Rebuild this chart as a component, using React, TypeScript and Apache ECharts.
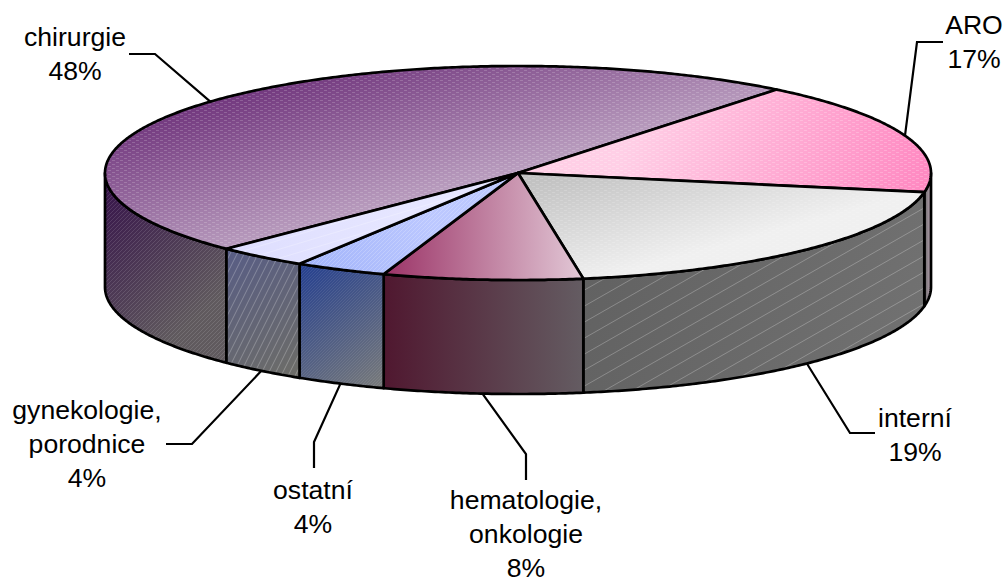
import React, { useEffect, useRef } from "react";
import * as echarts from "echarts";

// ---------- data ----------
const categories = ["chirurgie", "ARO", "interní", "hematologie,\nonkologie", "ostatní", "gynekologie,\nporodnice"];
const values = [48.3, 17.1, 19.6, 7.8, 3.6, 3.6];
const percentLabels = ["48%", "17%", "19%", "8%", "4%", "4%"];

// ---------- geometry ----------
const CX = 518, CY = 173, RX = 413, RY = 107, DEPTH = 114;
const START_DEG = 134.9;
const FONT = "'Liberation Sans', Arial, sans-serif";
const FONT_SIZE = 26.6;
const LINE_H = 34;

type Grad = [number, number, number, number, string, string];
const topGrad: Grad[] = [
  [190, 90, 236, 253, "#6A2C77", "#BBA0C0"],
  [640, 100, 920, 190, "#FFCFE6", "#FF8AC2"],
  [560, 175, 589, 282, "#C2C2C2", "#F0F0F0"],
  [386, 0, 583, 0, "#9C3568", "#E2C8D6"],
  [300, 264, 420, 200, "#A2B4FA", "#BCC8FF"],
  [227, 248, 400, 200, "#DEDEFF", "#E6E6FF"],
];
const wallGrad: Grad[] = [
  [105, 180, 215, 300, "#36124A", "#605A5E"],
  [925, 0, 932, 0, "#707070", "#C8ACC0"],
  [585, 280, 925, 390, "#626262", "#727272"],
  [385, 0, 583, 0, "#501830", "#645C62"],
  [300, 270, 385, 385, "#27418F", "#787A7A"],
  [228, 250, 300, 370, "#585D85", "#6C6C68"],
];
// tile kinds: speck = brick specks, fine = fine diagonal dots, lines = diagonal lines
type Tile = [string, number, number, number] | null;
const topTile: Tile[] = [
  ["speck", 8, 4, 0.18],
  ["speck", 8, 4, 0.22],
  ["speck", 8, 4, 0.16],
  null,
  ["fine", 4, 4, 0.2],
  ["lines", 30, 9, 0.25],
];
const wallTile: Tile[] = [
  ["fine", 4, 4, 0.12],
  null,
  ["lines", 28, 16, 0.25],
  null,
  ["fine", 3, 3, 0.08],
  ["lines", 7, 14, 0.25],
];
const labelPos: number[][] = [[75, 54], [974, 42], [915, 435], [526, 533.5], [313, 507], [87, 444]];
const leaderBend: number[][][] = [
  [[155, 54], [129, 54]],
  [[917, 42], [943, 42]],
  [[850, 433], [875, 433]],
  [[526, 454], [526, 480]],
  [[314, 442], [314, 468]],
  [[192, 444], [166, 444]],
];

function makeTile(t: Tile): any {
  if (!t) return null;
  const [kind, w, h, alpha] = t;
  const c = document.createElement("canvas");
  c.width = w;
  c.height = h;
  const g = c.getContext("2d")!;
  g.fillStyle = g.strokeStyle = `rgba(255,255,255,${alpha})`;
  if (kind === "speck") {
    g.fillRect(0, 0, 3, 1);
    g.fillRect(4, 2, 3, 1);
  } else if (kind === "fine") {
    for (let i = 0; i < w; i++) g.fillRect(i, h - 1 - i, 1, 1);
  } else {
    g.lineWidth = 1;
    for (const [dx, dy] of [[0, 0], [-w, 0], [w, 0], [0, h], [0, -h]]) {
      g.beginPath();
      g.moveTo(dx, h + dy);
      g.lineTo(w + dx, dy);
      g.stroke();
    }
  }
  return { image: c, repeat: "repeat" };
}

const rim = (deg: number, dy = 0): number[] => {
  const r = (deg * Math.PI) / 180;
  return [CX + RX * Math.cos(r), CY + RY * Math.sin(r) + dy];
};
const arc = (a: number, b: number, dy = 0): number[][] => {
  const pts: number[][] = [];
  const n = Math.max(2, Math.ceil(Math.abs(b - a) / 0.5));
  for (let i = 0; i <= n; i++) pts.push(rim(a + ((b - a) * i) / n, dy));
  return pts;
};
const total = values.reduce((s, v) => s + v, 0);
const span = (idx: number): [number, number] => {
  let a = START_DEG;
  for (let i = 0; i < idx; i++) a += (values[i] / total) * 360;
  return [a, a + (values[idx] / total) * 360];
};
const gradOf = (g: Grad) =>
  new echarts.graphic.LinearGradient(g[0], g[1], g[2], g[3], [
    { offset: 0, color: g[4] },
    { offset: 1, color: g[5] },
  ], true);

function shape(points: number[][], grad: any, pat: any) {
  const children: any[] = [
    { type: "polygon", shape: { points }, style: { fill: grad, stroke: "none" } },
  ];
  if (pat) children.push({ type: "polygon", shape: { points }, style: { fill: pat, stroke: "none" } });
  children.push({
    type: "polygon",
    shape: { points },
    style: { fill: "none", stroke: "#000", lineWidth: 2.7, lineJoin: "round" },
  });
  return children;
}

export default function App() {
  const ref = useRef<HTMLDivElement>(null);
  useEffect(() => {
    const chart = echarts.init(ref.current!, undefined, { renderer: "svg" });
    const topPat = topTile.map(makeTile);
    const wallPat = wallTile.map(makeTile);
    const seriesData = values.map((v, i) => ({ name: categories[i], value: [i, v] }));

    const walls = (_: any, api: any) => {
      const i = api.value(0) as number;
      const [a, b] = span(i);
      const children: any[] = [];
      for (const k of [0, 360]) {
        const lo = Math.max(a, k), hi = Math.min(b, k + 180);
        if (lo < hi) {
          const pts = [...arc(lo, hi), ...arc(hi, lo, DEPTH)];
          children.push(...shape(pts, gradOf(wallGrad[i]), wallPat[i]));
        }
      }
      return { type: "group", children };
    };
    const tops = (_: any, api: any) => {
      const i = api.value(0) as number;
      const [a, b] = span(i);
      const pts = [[CX, CY], ...arc(a, b)];
      return { type: "group", children: shape(pts, gradOf(topGrad[i]), topPat[i]) };
    };
    const labels = (_: any, api: any) => {
      const i = api.value(0) as number;
      const [a, b] = span(i);
      const mid = (a + b) / 2;
      const front = Math.sin((mid * Math.PI) / 180) > 0;
      const start = rim(mid, front ? DEPTH : 0);
      const lines = [...categories[i].split("\n"), percentLabels[i]];
      return {
        type: "group",
        children: [
          {
            type: "polyline",
            shape: { points: [start, ...leaderBend[i]] },
            style: { fill: "none", stroke: "#000", lineWidth: 2.2, lineJoin: "miter" },
          },
          ...lines.map((line, k) => ({
            type: "text",
            style: {
              text: line,
              x: labelPos[i][0],
              y: labelPos[i][1] + (k - (lines.length - 1) / 2) * LINE_H,
              fill: "#000",
              fontFamily: FONT,
              fontSize: FONT_SIZE,
              align: "center",
              verticalAlign: "middle",
            },
          })),
        ],
      };
    };

    chart.setOption({
      animation: false,
      backgroundColor: "#fff",
      series: [
        { type: "custom", coordinateSystem: "none", silent: true, z: 1, renderItem: walls, data: seriesData },
        { type: "custom", coordinateSystem: "none", silent: true, z: 2, renderItem: tops, data: seriesData },
        { type: "custom", coordinateSystem: "none", silent: true, z: 3, renderItem: labels, data: seriesData },
      ],
    });
    return () => chart.dispose();
  }, []);
  return <div ref={ref} style={{ position: "absolute", left: 0, top: 0, width: 1007, height: 581 }} />;
}
